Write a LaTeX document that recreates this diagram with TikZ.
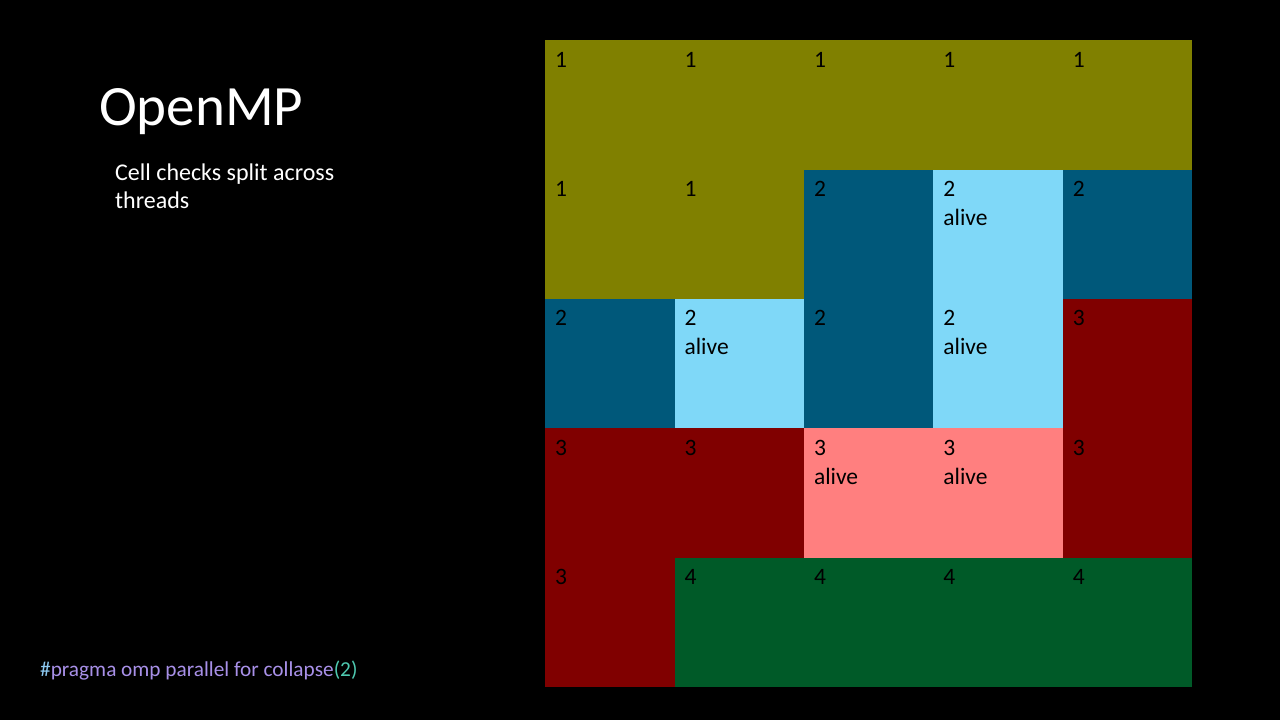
\documentclass[tikz,border=0pt]{standalone}
\usepackage{fontspec}
\setmainfont{Carlito}
\definecolor{olivec}{HTML}{808000}
\definecolor{tealc}{HTML}{00587A}
\definecolor{lightc}{HTML}{7FD8F8}
\definecolor{redc}{HTML}{800000}
\definecolor{pinkc}{HTML}{FF7F7F}
\definecolor{greenc}{HTML}{005A28}
\definecolor{purplec}{HTML}{A890E8}
\definecolor{hashc}{HTML}{8CC8F0}
\definecolor{numc}{HTML}{4EC9B0}
\begin{document}
\begin{tikzpicture}[x=1pt,y=-1pt,
  cell/.style={rectangle,draw=none,inner sep=0pt,minimum width=129.6pt,minimum height=129.6pt,anchor=north west},
  lab/.style={inner sep=0pt,anchor=base west,text=black,font=\fontsize{23.5}{28}\selectfont},
  title/.style={inner sep=0pt,anchor=base west,text=white,font=\fontsize{57}{68}\selectfont},
  body/.style={inner sep=0pt,anchor=base west,text=white,font=\fontsize{24}{28}\selectfont},
  code/.style={inner sep=0pt,anchor=base west,font=\fontsize{21.3}{25}\selectfont}]
\fill[black] (0,0) rectangle (1280,720);
\useasboundingbox (0,0) rectangle (1280,720);
\foreach \c/\r/\fc/\n/\a in {
  0/0/olivec/1/0, 1/0/olivec/1/0, 2/0/olivec/1/0, 3/0/olivec/1/0, 4/0/olivec/1/0,
  0/1/olivec/1/0, 1/1/olivec/1/0, 2/1/tealc/2/0, 3/1/lightc/2/1, 4/1/tealc/2/0,
  0/2/tealc/2/0, 1/2/lightc/2/1, 2/2/tealc/2/0, 3/2/lightc/2/1, 4/2/redc/3/0,
  0/3/redc/3/0, 1/3/redc/3/0, 2/3/pinkc/3/1, 3/3/pinkc/3/1, 4/3/redc/3/0,
  0/4/redc/3/0, 1/4/greenc/4/0, 2/4/greenc/4/0, 3/4/greenc/4/0, 4/4/greenc/4/0}{
  \node[cell,fill=\fc] (c\r\c) at ({545+129.4*\c},{40+129.4*\r}) {};
  \node[lab] (t\r\c) at ({555+129.4*\c},{67+129.4*\r}) {\n};
  \ifnum\a=1
    \node[lab] (a\r\c) at ({555+129.4*\c},{96+129.4*\r}) {alive};
  \fi
}
\node[title] (ttl) at (99,125) {OpenMP};
\node[body] (desc1) at (115,180) {Cell checks split across};
\node[body] (desc2) at (115,208) {threads};
\node[code] (prag) at (40,676) {\textcolor{hashc}{\#}\textcolor{purplec}{pragma omp parallel for collapse}\textcolor{numc}{(2)}};
\end{tikzpicture}
\end{document}
